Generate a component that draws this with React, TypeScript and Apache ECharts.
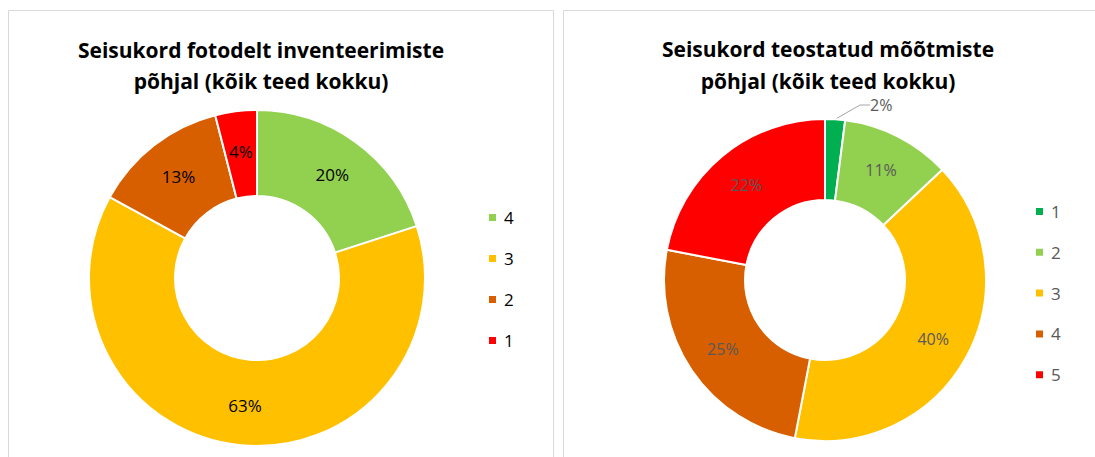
import React, { useEffect, useRef } from "react";
import * as echarts from "echarts";

const leftCategories = ["4", "3", "2", "1"];
const leftValues = [20, 63, 13, 4];
const leftColors = ["#92D050", "#FFC000", "#D75F00", "#FF0000"];

const rightCategories = ["1", "2", "3", "4", "5"];
const rightValues = [2, 11, 40, 25, 22];
const rightColors = ["#00B050", "#92D050", "#FFC000", "#D75F00", "#FF0000"];

const leftTitleLines = ["Seisukord fotodelt inventeerimiste", "põhjal (kõik teed kokku)"];
const rightTitleLines = ["Seisukord teostatud mõõtmiste", "põhjal (kõik teed kokku)"];

const FONT = "'Open Sans', 'Noto Sans', sans-serif";

const titleStyle = { fontFamily: FONT, fontWeight: "bold", fontSize: 21, lineHeight: 24, color: "#000" };

export default function App() {
  const ref = useRef<HTMLDivElement>(null);
  useEffect(() => {
    document.body.style.margin = "0";
    const chart = echarts.init(ref.current!, null, { renderer: "svg" });
    chart.setOption({
      animation: false,
      backgroundColor: "#ffffff",
      graphic: [
        { type: "rect", shape: { x: 8.5, y: 10.5, width: 545, height: 460 }, style: { fill: "none", stroke: "#d9d9d9", lineWidth: 1 } },
        { type: "rect", shape: { x: 563.5, y: 10.5, width: 545, height: 460 }, style: { fill: "none", stroke: "#d9d9d9", lineWidth: 1 } },
      ],
      title: [
        { text: leftTitleLines[0], left: 261, top: 38, padding: 0, textAlign: "center", textStyle: titleStyle },
        { text: leftTitleLines[1], left: 261, top: 69, padding: 0, textAlign: "center", textStyle: titleStyle },
        { text: rightTitleLines[0], left: 828, top: 37, padding: 0, textAlign: "center", textStyle: titleStyle },
        { text: rightTitleLines[1], left: 828, top: 69, padding: 0, textAlign: "center", textStyle: titleStyle },
      ],
      legend: [
        {
          orient: "vertical",
          left: 482,
          top: 204,
          itemWidth: 9,
          itemHeight: 9,
          itemGap: 24,
          icon: "rect",
          data: leftCategories,
          textStyle: { fontFamily: FONT, fontSize: 17, color: "#000", padding: [0, 0, 0, 2] },
          selectedMode: false,
        },
        {
          orient: "vertical",
          left: 1029,
          top: 198,
          itemWidth: 9,
          itemHeight: 9,
          itemGap: 23.8,
          icon: "rect",
          data: rightCategories.map((c) => c + " "),
          textStyle: { fontFamily: FONT, fontSize: 17, color: "#595959", padding: [0, 0, 0, 2] },
          selectedMode: false,
        },
      ],
      series: [
        {
          type: "pie",
          center: [257, 278],
          radius: [82, 168],
          startAngle: 90,
          clockwise: true,
          avoidLabelOverlap: false,
          itemStyle: { borderColor: "#fff", borderWidth: 2 },
          label: {
            show: true,
            position: "inside",
            formatter: "{c}%",
            fontFamily: FONT,
            fontSize: 17,
            color: "#000",
          },
          labelLine: { show: false },
          emphasis: { disabled: true },
          data: leftCategories.map((n, i) => ({ name: n, value: leftValues[i], itemStyle: { color: leftColors[i] } })),
        },
        {
          type: "pie",
          center: [825, 280],
          radius: [80, 161],
          startAngle: 90,
          clockwise: true,
          avoidLabelOverlap: false,
          itemStyle: { borderColor: "#fff", borderWidth: 2 },
          label: {
            show: true,
            position: "inside",
            formatter: "{c}%",
            fontFamily: FONT,
            fontSize: 16,
            color: "#595959",
          },
          labelLine: { show: false },
          labelLayout: (params: any) => {
            if (params.dataIndex === 0) {
              return { x: 870, y: 105, align: "left", verticalAlign: "middle" };
            }
            return {};
          },
          emphasis: { disabled: true },
          data: rightCategories.map((n, i) => ({
            name: n + " ",
            value: rightValues[i],
            itemStyle: { color: rightColors[i] },
            ...(i === 0
              ? {
                  label: { position: "outside" },
                  labelLine: { show: true, length: 14, length2: 10, lineStyle: { color: "#a6a6a6", width: 1 } },
                }
              : {}),
          })),
        },
      ],
    });
    return () => chart.dispose();
  }, []);
  return <div ref={ref} style={{ width: 1095, height: 457 }} />;
}
